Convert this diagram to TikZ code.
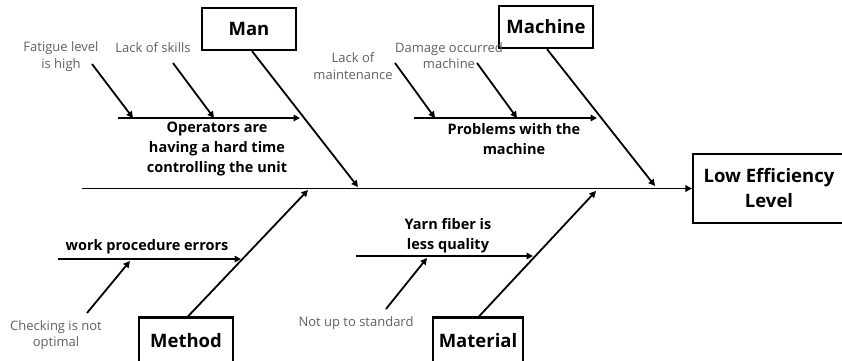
\documentclass[tikz,border=0pt]{standalone}
\usepackage{fontspec}
\setmainfont{Open Sans}
\usetikzlibrary{arrows.meta}
\begin{document}
\begin{tikzpicture}[x=1pt,y=-1pt,
  ln/.style={line width=1.8pt},
  arr/.style={ln,-{Triangle[length=6.5pt,width=6.5pt]}},
  box/.style={draw,line width=2.2pt,inner sep=0pt,font=\bfseries\fontsize{18.5}{25}\selectfont,align=center},
  lbl/.style={font=\bfseries\fontsize{14.5}{20}\selectfont,align=center,inner sep=0pt},
  note/.style={font=\fontsize{13}{16.5}\selectfont,text=black!62,align=center,inner sep=0pt}]
\useasboundingbox (0,0) rectangle (842,360);
\fill[white] (0,0) rectangle (842,360);

% boxes
\node[box,minimum width=94pt,minimum height=42pt] (man) at (249,29) {Man};
\node[box,minimum width=94pt,minimum height=42pt] (mach) at (546,27) {Machine};
\node[box,minimum width=94pt,minimum height=47pt] (meth) at (186,341) {Method};
\node[box,minimum width=90pt,minimum height=47pt] (mat) at (478,341) {Material};
\node[box,minimum width=152pt,minimum height=69pt] (eff) at (769,188.5) {Low Efficiency\\Level};

% spine
\coordinate (s0) at (82,188.5);
\draw[arr] (s0) -- (eff.west);

% main bones
\coordinate (manE) at (358,187);
\coordinate (machE) at (655,186);
\coordinate (methE) at (308,190);
\coordinate (matE) at (596,191);
\draw[arr] ([xshift=3pt]man.south) -- (manE);
\draw[arr] ([xshift=1pt]mach.south) -- (machE);
\draw[arr] ([xshift=2pt]meth.north) -- (methE);
\draw[arr] ([xshift=1pt]mat.north) -- (matE);

% Man sub-branch
\coordinate (ma0) at (118,118);
\coordinate (ma1) at (300,118);
\draw[arr] (ma0) -- (ma1);
\coordinate (f0) at (92,64);  \coordinate (f1) at (133,118);
\coordinate (k0) at (173,63); \coordinate (k1) at (214,118);
\draw[arr] (f0) -- (f1);
\draw[arr] (k0) -- (k1);
\node[note] (fat) at (61,56.5) {Fatigue level\\is high};
\node[note] (skl) at (153,48) {Lack of skills};
\node[lbl] (op) at (217,149) {Operators are\\having a hard time\\controlling the unit};

% Machine sub-branch
\coordinate (mc0) at (414,118);
\coordinate (mc1) at (597,118);
\draw[arr] (mc0) -- (mc1);
\coordinate (l0) at (395,63);  \coordinate (l1) at (435,118);
\coordinate (d0) at (477,63);  \coordinate (d1) at (517,118);
\draw[arr] (l0) -- (l1);
\draw[arr] (d0) -- (d1);
\node[note] (lom) at (353,66) {Lack of\\maintenance};
\node[note] (dam) at (449,55.5) {Damage occurred\\machine};
\node[lbl] (pwm) at (514,139) {Problems with the\\machine};

% Method sub-branch
\coordinate (me0) at (58,259);
\coordinate (me1) at (241,259);
\draw[arr] (me0) -- (me1);
\coordinate (c0) at (87,313); \coordinate (c1) at (130,261);
\draw[arr] (c0) -- (c1);
\node[lbl] (wpe) at (147,247) {work procedure errors};
\node[note] (chk) at (56,335) {Checking is not\\optimal};

% Material sub-branch
\coordinate (mt0) at (356,256);
\coordinate (mt1) at (533,256);
\draw[arr] (mt0) -- (mt1);
\coordinate (n0) at (386,309); \coordinate (n1) at (427,258);
\draw[arr] (n0) -- (n1);
\node[lbl] (yarn) at (448,236) {Yarn fiber is\\less quality};
\node[note] (nus) at (356,323) {Not up to standard};
\end{tikzpicture}
\end{document}
